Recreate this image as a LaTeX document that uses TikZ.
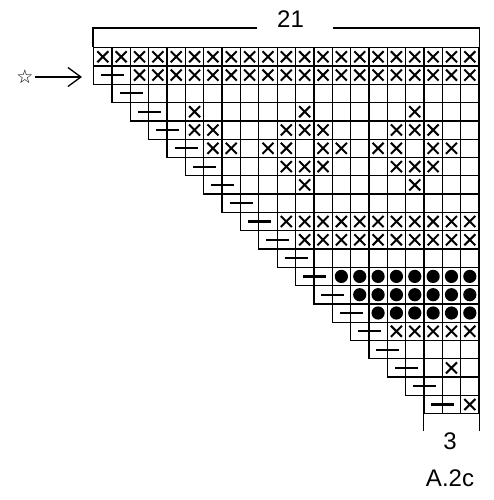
\documentclass[tikz,border=0pt]{standalone}
\usepackage{fontspec}
\setmainfont{Liberation Sans}
\newfontfamily\symfont{DejaVu Sans}
\usetikzlibrary{arrows.meta,positioning,calc}

\begin{document}
\begin{tikzpicture}[x=1pt, y=-1pt, arrow/.style = {line width=1.3pt,-{Straight Barb[length=13pt,width=19pt]}}]
	\tikzset{cell/.style={draw,rectangle,line width=1.3pt,minimum width=18.35pt,minimum height=18.3pt,inner sep=0pt,anchor=north west}}
	\tikzset{cross/.style={line width=2pt}, decr/.style={line width=2.2pt}, big/.style={font=\fontsize{24}{24}\selectfont}}
	\useasboundingbox (0,0) rectangle (494,500);

	% chart cells, one row after the other
	\foreach \r in {1,...,20}{
		\pgfmathtruncatemacro{\first}{max(1,\r-1)}
		\foreach \c in {\first,...,21}
			\node[cell] (c-\r-\c) at ({93+(\c-1)*18.35},{47+(\r-1)*18.3}) {};
	}

	\foreach \r/\cols in {1/{1,...,21}, 2/{3,...,21}, 4/{6,12,18}, 5/{6,7,11,12,13,17,18,19},
		6/{7,8,10,11,13,14,16,17,19,20}, 7/{11,12,13,17,18,19}, 8/{12,18}, 10/{11,...,21},
		11/{12,...,21}, 16/{17,...,21}, 18/{20}, 20/{21}}
		\foreach \c in \cols
			\draw[cross] (c-\r-\c.center) +(-5.5,-5.5) -- +(5.5,5.5) +(-5.5,5.5) -- +(5.5,-5.5);

	\foreach \r/\cols in {13/{14,...,21}, 14/{15,...,21}, 15/{16,...,21}}
		\foreach \c in \cols
			\fill (c-\r-\c.center) circle (6.6);

	\foreach \r in {2,...,20}{
		\pgfmathtruncatemacro{\p}{\r-1}
		\draw[decr] (c-\r-\p.east) +(-11.5,0) -- +(11.5,0);
	}

	\node[font=\symfont\fontsize{19}{19}\selectfont, inner sep=1pt] (star) at (25,77) {☆};
	\coordinate (tip) at (82,77);
	\draw [arrow] (star) -- (tip);

	\node[big] (width) at (290.5,19) {21};
	\draw[line width=1.3pt] (c-1-1.north west) -- ++(0,-19) -- (257,28);
	\draw[line width=1.3pt] (333,28) -- (c-1-21.north east |- 0,28) -- (c-1-21.north east);

	\draw[line width=1.3pt] (c-20-19.south west) -- ++(0,17);
	\draw[line width=1.3pt] (c-20-21.south east) -- ++(0,17);
	\node[big] (reps) at (450,441) {3};
	\node[big] (chart) at (450,478.5) {A.2c};
\end{tikzpicture}
\end{document}
